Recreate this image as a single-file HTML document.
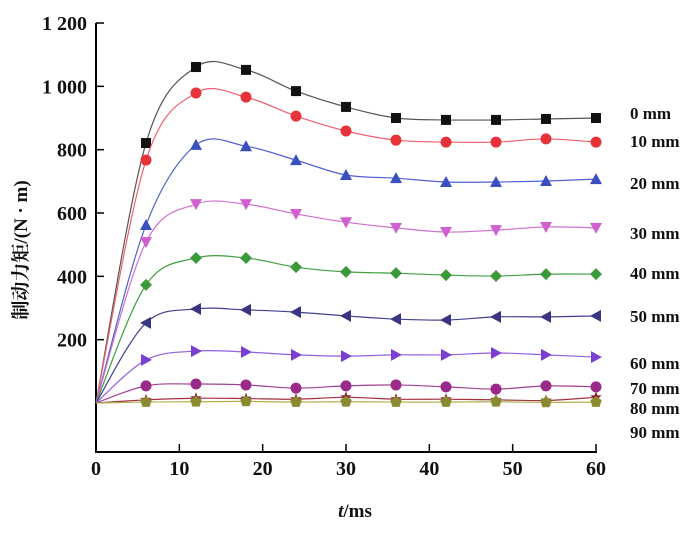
<!DOCTYPE html>
<html><head><meta charset="utf-8">
<style>
body{margin:0;background:#fff;width:700px;height:528px;overflow:hidden}
svg text{font-family:"Liberation Serif","Noto Serif CJK SC",serif;fill:#111}
</style></head>
<body>
<svg id="chart" width="700" height="528" viewBox="0 0 700 528">
<g id="axes"></g><g id="series"></g>
<text transform="translate(27,250) rotate(-90)" text-anchor="middle" font-size="19" font-weight="bold">制动力矩/(N · m)</text>
<text x="355" y="517" text-anchor="middle" font-size="19" font-weight="bold"><tspan font-style="italic">t</tspan>/ms</text>
</svg>
<script>
const times=[0,6,12,18,24,30,36,42,48,54,60];
const labels=["0 mm","10 mm","20 mm","30 mm","40 mm","50 mm","60 mm","70 mm","80 mm","90 mm"];
const s0=[0,821,1061,1052,985,935,900,894,894,897,900];
const s10=[0,767,979,966,906,859,830,824,824,834,824];
const s20=[0,562,815,811,767,720,710,698,698,701,707];
const s30=[0,508,628,628,597,571,553,540,546,556,553];
const s40=[0,373,458,458,429,414,410,404,401,407,407];
const s50=[0,253,297,294,287,275,265,262,272,272,275];
const s60=[0,136,164,161,152,148,152,152,158,152,145];
const s70=[0,54,60,57,47,54,57,51,44,54,51];
const s80=[0,10,15,14,12,18,12,12,10,8,18];
const s90=[0,3,4,5,3,4,3,3,4,2,3];
const xTicks=[0,10,20,30,40,50,60];
const yTicks=[200,400,600,800,1000,1200];
const yTickLabels=["200","400","600","800","1 000","1 200"];
const labelYs=[113,141,183,233,273,316,363,388,408,432];
const series=[s0,s10,s20,s30,s40,s50,s60,s70,s80,s90];
const colors=["#111","#e8323a","#3a4fc0","#d060d0","#3a9a3a","#3a3580","#7a3fd0","#9a2a8a","#8a2030","#8a8a30"];
const lineColors=["#555","#f06070","#5060d0","#d070d0","#40a040","#404090","#9060e0","#a04090","#a03040","#b0b050"];
const shapes=["square","circle","up","down","diamond","left","right","circle","star","pentagon"];
const X=v=>96+v*(500/60);
const Y=v=>403-v*(63.33/200);
const NS="http://www.w3.org/2000/svg";
function mk(t,a,p){const e=document.createElementNS(NS,t);for(const k in a)e.setAttribute(k,a[k]);p.appendChild(e);return e;}
const ax=document.getElementById('axes');
const yl=mk('line',{x1:96,y1:Y(1200),x2:96,y2:452,stroke:'#000','stroke-width':2},ax);


const xl=mk('line',{x1:95,y1:452,x2:597,y2:452,stroke:'#000','stroke-width':2},ax);


xTicks.forEach(v=>{
 mk('line',{x1:X(v),y1:452,x2:X(v),y2:444,stroke:'#000','stroke-width':1.5},ax);
 const t=mk('text',{x:X(v),y:475,'text-anchor':'middle','font-size':20,'font-weight':'bold'},ax);t.textContent=v;
 
 
});
yTicks.forEach((v,i)=>{
 mk('line',{x1:96,y1:Y(v),x2:104,y2:Y(v),stroke:'#000','stroke-width':1.5},ax);
 const t=mk('text',{x:87,y:Y(v)+7,'text-anchor':'end','font-size':20,'font-weight':'bold'},ax);t.textContent=yTickLabels[i];
 
 
});
function path(pts){let d=`M${pts[0][0]},${pts[0][1]}`;
 for(let i=0;i<pts.length-1;i++){const p0=pts[Math.max(0,i-1)],p1=pts[i],p2=pts[i+1],p3=pts[Math.min(pts.length-1,i+2)];
 d+=` C${p1[0]+(p2[0]-p0[0])/6},${p1[1]+(p2[1]-p0[1])/6} ${p2[0]-(p3[0]-p1[0])/6},${p2[1]-(p3[1]-p1[1])/6} ${p2[0]},${p2[1]}`;}
 return d;}
function marker(g,shape,x,y,c){const r=5;let a;
 if(shape==='square')a=mk('rect',{x:x-r,y:y-r,width:2*r,height:2*r,fill:c},g);
 else if(shape==='circle')a=mk('circle',{cx:x,cy:y,r:r+0.5,fill:c},g);
 else{let p;
  if(shape==='up')p=[[x,y-6],[x+6,y+5],[x-6,y+5]];
  if(shape==='down')p=[[x,y+6],[x+6,y-5],[x-6,y-5]];
  if(shape==='left')p=[[x-6,y],[x+5,y-6],[x+5,y+6]];
  if(shape==='right')p=[[x+6,y],[x-5,y-6],[x-5,y+6]];
  if(shape==='diamond')p=[[x,y-6],[x+6,y],[x,y+6],[x-6,y]];
  if(shape==='pentagon'){p=[];for(let k=0;k<5;k++){const an=-Math.PI/2+k*2*Math.PI/5;p.push([x+6*Math.cos(an),y+6*Math.sin(an)]);}}
  if(shape==='star'){p=[];for(let k=0;k<10;k++){const an=-Math.PI/2+k*Math.PI/5,rr=k%2?2.5:6;p.push([x+rr*Math.cos(an),y+rr*Math.sin(an)]);}}
  a=mk('polygon',{points:p.map(q=>q.join(',')).join(' '),fill:c},g);}
 return a;}
const sg=document.getElementById('series');
series.forEach((s,i)=>{
 const g=mk('g',{},sg);
 
 
 const pts=s.map((v,j)=>[X(times[j]),Y(v)]);
 const ln=mk('path',{d:path(pts),fill:'none',stroke:lineColors[i],'stroke-width':1.2},g);
 
 
 pts.slice(1).forEach(p=>{const m=marker(g,shapes[i],p[0],p[1],colors[i]);
  
  });
 const t=mk('text',{x:630,y:labelYs[i]+6,'font-size':17,'font-weight':'bold'},sg);t.textContent=labels[i];
 
 
});
</script>
</body></html>
